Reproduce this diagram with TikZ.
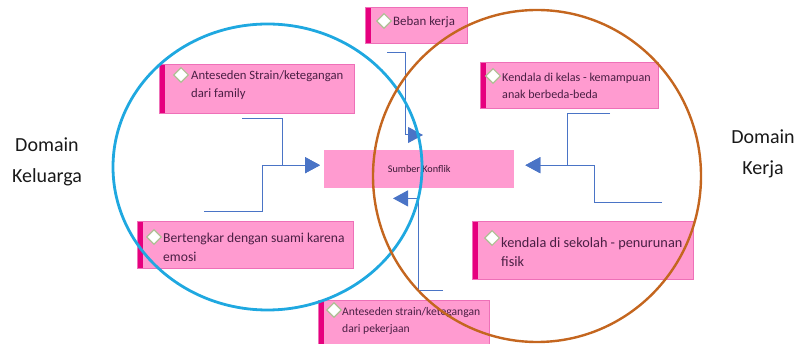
\documentclass[tikz,border=0pt]{standalone}
\usepackage{fontspec}
\setmainfont{Carlito}
\usetikzlibrary{arrows.meta, shapes.geometric, calc}
\definecolor{boxpink}{HTML}{FF9BD0}
\definecolor{barpink}{HTML}{E6007E}
\definecolor{edgepink}{HTML}{EE70B8}
\definecolor{txtpurple}{HTML}{4A1F44}
\definecolor{linkblue}{HTML}{4A74C6}
\definecolor{ringblue}{HTML}{1FA8E0}
\definecolor{ringbrown}{HTML}{C4661F}
\definecolor{diaedge}{HTML}{AFBF94}

\begin{document}
\begin{tikzpicture}[x=1pt, y=-1pt]
        \tikzstyle{topic}=[draw=edgepink, line width=.6, fill=boxpink, rectangle, anchor=north west, inner sep=0,
          path picture={\fill[barpink] (path picture bounding box.north west) rectangle ([xshift=6pt]path picture bounding box.south west);}];
        \tikzstyle{core}=[fill=boxpink, rectangle, anchor=north west, inner sep=0, text=txtpurple!80!black, font=\fontsize{10.2}{12}\selectfont];
        \tikzstyle{txt}=[anchor=west, align=left, inner sep=0, text=txtpurple];
        \tikzstyle{dia}=[diamond, draw=diaedge, fill=white, line width=1.1, inner sep=0, minimum size=15];
        \tikzstyle{link}=[draw=linkblue, line width=1, -{Triangle[length=15pt, width=16pt]}];
        \tikzstyle{domainlbl}=[align=center, inner sep=0, text=black!90, font=\fontsize{20}{31}\selectfont];
        \useasboundingbox (0,0) rectangle (797,344);

        \node[topic, minimum width=102, minimum height=36] (beban) at (365,7) {};
        \node[topic, minimum width=195, minimum height=49] (family) at (159,64) {};
        \node[topic, minimum width=178, minimum height=46] (kelas) at (480,62) {};
        \node[core, minimum width=190, minimum height=38] (sumber) at (324,150) {Sumber Konflik};
        \node[topic, minimum width=216, minimum height=47] (bertengkar) at (137,221) {};
        \node[topic, minimum width=221, minimum height=58] (sekolah) at (472,221) {};
        \node[topic, minimum width=171, minimum height=46] (pekerjaan) at (318,300) {};

        \node[txt, font=\fontsize{12.9}{15}\selectfont] (bebantxt) at ([shift={(28,-3)}]beban.west) {Beban kerja};
        \node[txt, font=\fontsize{12.7}{18}\selectfont] (familytxt) at ([shift={(32,-3.5)}]family.west) {Anteseden Strain/ketegangan\\dari family};
        \node[txt, font=\fontsize{12.1}{17}\selectfont] (kelastxt) at ([shift={(22,0.5)}]kelas.west) {Kendala di kelas - kemampuan\\anak berbeda-beda};
        \node[txt, font=\fontsize{13.6}{19}\selectfont] (bertengkartxt) at ([shift={(26,3)}]bertengkar.west) {Bertengkar dengan suami karena\\emosi};
        \node[txt, font=\fontsize{14.3}{19}\selectfont] (sekolahtxt) at ([shift={(29,1.5)}]sekolah.west) {kendala di sekolah - penurunan\\fisik};
        \node[txt, font=\fontsize{11.6}{17}\selectfont] (pekerjaantxt) at ([shift={(24,-2.5)}]pekerjaan.west) {Anteseden strain/ketegangan\\dari pekerjaan};

        \node[dia] (bebandia) at ([shift={(19,14)}]beban.north west) {};
        \node[dia] (familydia) at ([shift={(22,11)}]family.north west) {};
        \node[dia] (kelasdia) at ([shift={(13,14)}]kelas.north west) {};
        \node[dia] (bertengkardia) at ([shift={(17,16)}]bertengkar.north west) {};
        \node[dia] (sekolahdia) at ([shift={(20,17)}]sekolah.north west) {};
        \node[dia] (pekerjaandia) at ([shift={(16,10)}]pekerjaan.north west) {};

        \node[domainlbl] (keluarga) at (47,162) {Domain\\Keluarga};
        \node[domainlbl] (kerja) at (763,154) {Domain\\Kerja};

        \coordinate (famout) at ([shift={(83,5)}]family.south west);
        \coordinate (bertout) at ([shift={(67,-9)}]bertengkar.north west);
        \coordinate (bebanout) at ([shift={(22,9)}]beban.south west);
        \coordinate (pekout) at ([shift={(125,-9)}]pekerjaan.north west);
        \coordinate (kelasout) at ([shift={(130,5)}]kelas.south west);
        \coordinate (sekolahout) at ([shift={(190,-18)}]sekolah.north west);
        \coordinate (leftin) at ([shift={(-4,-4)}]sumber.west);
        \coordinate (topin) at ([shift={(99,-15)}]sumber.north west);
        \coordinate (botin) at ([shift={(69,10)}]sumber.south west);
        \coordinate (rightin) at ([shift={(11,-4)}]sumber.east);

        \draw[link] (famout) -- ++(40,0) |- (leftin);
        \draw[link] (bertout) -- ++(58,0) |- (leftin);
        \draw[link] (bebanout) -- ++(18,0) |- (topin);
        \draw[link] (pekout) -- ++(-25,0) |- (botin);
        \draw[link] (kelasout) -- ++(-43,0) |- (rightin);
        \draw[link] (sekolahout) -- ++(-68,0) |- (rightin);

        \draw[ringblue, line width=2.8] (267.5,167) ellipse [x radius=154.5pt, y radius=143pt];
        \draw[ringbrown, line width=2.4] (537,176) ellipse [x radius=164pt, y radius=166pt];
      \end{tikzpicture}
\end{document}
